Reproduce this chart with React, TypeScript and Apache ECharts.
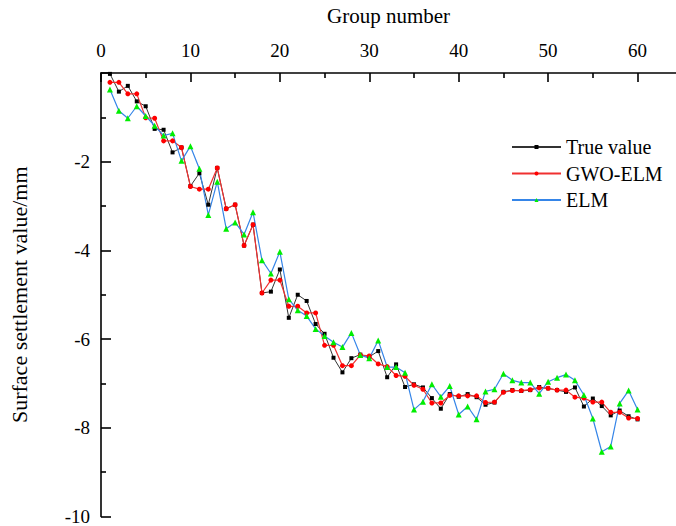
import React, { useEffect, useRef } from "react";
import * as echarts from "echarts";

const groups = [
  1, 2, 3, 4, 5, 6, 7, 8, 9, 10, 11, 12, 13, 14, 15, 16, 17, 18, 19, 20,
  21, 22, 23, 24, 25, 26, 27, 28, 29, 30, 31, 32, 33, 34, 35, 36, 37, 38, 39, 40,
  41, 42, 43, 44, 45, 46, 47, 48, 49, 50, 51, 52, 53, 54, 55, 56, 57, 58, 59, 60,
];

const trueValue = [
  -0.02, -0.42, -0.29, -0.64, -0.75, -1.26, -1.28, -1.79, -1.68, -2.55,
  -2.26, -2.97, -2.14, -3.06, -2.97, -3.89, -3.42, -4.96, -4.93, -4.43,
  -5.52, -5.0, -5.14, -5.66, -5.88, -6.42, -6.75, -6.43, -6.35, -6.4,
  -6.27, -6.86, -6.57, -7.08, -7.02, -7.09, -7.33, -7.57, -7.24, -7.3,
  -7.24, -7.31, -7.48, -7.43, -7.19, -7.15, -7.17, -7.15, -7.08, -7.11,
  -7.15, -7.19, -7.09, -7.52, -7.34, -7.51, -7.72, -7.61, -7.74, -7.81,
];

const gwoElm = [
  -0.21, -0.21, -0.47, -0.47, -1.01, -1.02, -1.53, -1.53, -1.68, -2.56,
  -2.62, -2.62, -2.14, -3.06, -2.97, -3.89, -3.42, -4.96, -4.67, -4.67,
  -5.26, -5.26, -5.41, -5.41, -6.14, -6.14, -6.6, -6.6, -6.36, -6.38,
  -6.56, -6.62, -6.82, -6.84, -7.04, -7.13, -7.44, -7.44, -7.27, -7.28,
  -7.28, -7.28, -7.43, -7.42, -7.2, -7.16, -7.16, -7.14, -7.1, -7.11,
  -7.15, -7.15, -7.31, -7.33, -7.42, -7.42, -7.65, -7.65, -7.78, -7.79,
];

const elm = [
  -0.37, -0.85, -1.02, -0.75, -0.97, -1.19, -1.41, -1.36, -1.98, -1.65,
  -2.16, -3.2, -2.45, -3.51, -3.37, -3.64, -3.14, -4.22, -4.52, -4.03,
  -5.1, -5.35, -5.48, -5.77, -5.93, -6.07, -6.18, -5.86, -6.36, -6.43,
  -6.03, -6.63, -6.63, -6.76, -7.59, -7.41, -7.02, -7.3, -7.06, -7.7,
  -7.52, -7.81, -7.18, -7.13, -6.78, -6.93, -6.98, -6.98, -7.23, -6.96,
  -6.87, -6.8, -6.93, -7.26, -7.79, -8.54, -8.42, -7.45, -7.16, -7.59,
];

const xMajorTicks = [0, 10, 20, 30, 40, 50, 60];
const xMinorTicks = [5, 15, 25, 35, 45, 55];

const FONT = "'Liberation Serif', 'Times New Roman', serif";

export default function App() {
  const ref = useRef<HTMLDivElement>(null);

  useEffect(() => {
    if (!ref.current) return;
    const chart = echarts.init(ref.current, null, { renderer: "svg" });
    const pair = (arr: number[]) => groups.map((g, i) => [g, arr[i]]);

    const axisLineStyle = { color: "#000", width: 1.6 };

    chart.setOption({
      animation: false,
      backgroundColor: "#fff",
      textStyle: { fontFamily: FONT },
      grid: { left: 91, top: 68, right: 0, bottom: 4 },
      legend: {
        orient: "vertical",
        left: 506,
        top: 132,
        itemWidth: 49,
        itemHeight: 5,
        itemGap: 6.5,
        textStyle: { fontFamily: FONT, fontSize: 20, color: "#000" },
        data: ["True value", "GWO-ELM", "ELM"],
      },
      xAxis: [
        {
          type: "value",
          position: "top",
          min: 0,
          max: 64.3,
          interval: 10,
          name: "Group number",
          nameLocation: "middle",
          nameGap: 47,
          nameTextStyle: { fontFamily: FONT, fontSize: 21, color: "#000" },
          axisLine: { show: true, lineStyle: axisLineStyle },
          axisTick: {
            show: true,
            inside: true,
            length: 9,
            customValues: xMajorTicks,
            lineStyle: axisLineStyle,
          },
          axisLabel: {
            customValues: xMajorTicks,
            fontFamily: FONT,
            fontSize: 19,
            color: "#000",
            margin: 13,
          },
          splitLine: { show: false },
        },
        {
          type: "value",
          position: "top",
          min: 0,
          max: 64.3,
          axisLine: { show: false },
          axisTick: {
            show: true,
            inside: true,
            length: 5,
            customValues: xMinorTicks,
            lineStyle: axisLineStyle,
          },
          axisLabel: { show: false },
          splitLine: { show: false },
        },
      ],
      yAxis: {
        type: "value",
        min: -10,
        max: 0,
        interval: 2,
        name: "Surface settlement value/mm",
        nameLocation: "middle",
        nameGap: 71,
        nameRotate: 90,
        nameTextStyle: { fontFamily: FONT, fontSize: 22, color: "#000" },
        axisLine: { show: true, lineStyle: axisLineStyle },
        axisTick: { show: true, inside: true, length: 10, lineStyle: axisLineStyle },
        minorTick: { show: true, splitNumber: 2, length: 5, lineStyle: axisLineStyle },
        axisLabel: {
          fontFamily: FONT,
          fontSize: 19,
          color: "#000",
          margin: 11,
          formatter: (v: number) => (v === 0 ? "" : String(v)),
        },
        splitLine: { show: false },
        minorSplitLine: { show: false },
      },
      series: [
        {
          name: "True value",
          type: "line",
          data: pair(trueValue),
          symbol: "rect",
          symbolSize: 4,
          showAllSymbol: true,
          itemStyle: { color: "#000" },
          lineStyle: { color: "#333", width: 1 },
        },
        {
          name: "GWO-ELM",
          type: "line",
          data: pair(gwoElm),
          symbol: "circle",
          symbolSize: 5,
          showAllSymbol: true,
          itemStyle: { color: "#ff0000" },
          lineStyle: { color: "#f03030", width: 1.2 },
        },
        {
          name: "ELM",
          type: "line",
          data: pair(elm),
          symbol: "triangle",
          symbolSize: 6,
          showAllSymbol: true,
          itemStyle: { color: "#00ee00" },
          lineStyle: { color: "#3585e8", width: 1.2 },
        },
      ],
    });

    return () => chart.dispose();
  }, []);

  return (
    <div
      ref={ref}
      style={{ position: "fixed", left: 0, top: 0, width: 676, height: 526 }}
    />
  );
}
